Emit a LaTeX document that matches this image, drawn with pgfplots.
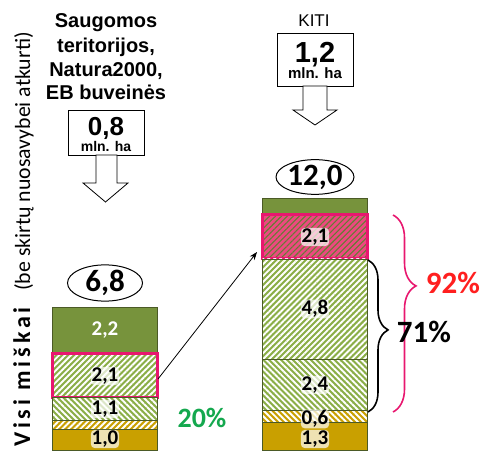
\documentclass[border=0pt]{standalone}
\usepackage{pgfplots}
\pgfplotsset{compat=1.18}
\usepackage{fontspec}
\setmainfont{Carlito}
\newfontfamily\arial{Liberation Sans}
\usetikzlibrary{patterns.meta,shapes.geometric,decorations.pathreplacing,arrows.meta}

\definecolor{olivec}{HTML}{77933C}
\definecolor{hgreen}{HTML}{8BAE47}
\definecolor{goldc}{HTML}{C9A000}
\definecolor{pinkb}{HTML}{E8176F}
\definecolor{pinkf}{HTML}{EC4A80}
\definecolor{edgec}{HTML}{4B5A26}
\definecolor{redp}{HTML}{FF1F1F}
\definecolor{greenp}{HTML}{14A84E}

\tikzset{
  hatchNE/.style={postaction={pattern={Lines[angle=45,distance=4.2pt,line width=1.9pt]},pattern color=white}},
  hatchNW/.style={postaction={pattern={Lines[angle=-45,distance=4.2pt,line width=1.9pt]},pattern color=white}},
  hatchPK/.style={postaction={pattern={Lines[angle=45,distance=4.2pt,line width=1.1pt]},pattern color=olivec!85!black}},
  lab/.style={font=\bfseries\fontsize{21}{21}\selectfont, fill=white, fill opacity=0.7, text opacity=1, inner sep=0.8pt, rounded corners=4pt},
}

\pgfplotsset{
  base/.style={width=486pt, height=450pt, scale only axis, at={(0pt,0pt)}, anchor=south west,
    xmin=0, xmax=486, ymin=0, ymax=21.428571, hide axis, clip=false,
    ybar stacked, bar width=105},
}

\begin{document}
\begin{tikzpicture}
% left bar
\begin{axis}[base]
\addplot[fill=goldc, draw=edgec, line width=0.6pt] coordinates {(105,1.0)};
\addplot[fill=goldc, draw=edgec, line width=0.6pt, hatchNE] coordinates {(105,0.4)};
\addplot[fill=hgreen, draw=edgec, line width=0.6pt, hatchNW] coordinates {(105,1.1)};
\addplot[fill=hgreen, draw=pinkb, line width=3pt, hatchNE] coordinates {(105,2.1)};
\addplot[fill=olivec, draw=edgec, line width=0.6pt] coordinates {(105,2.2)};
\end{axis}
% right bar
\begin{axis}[base, name=ax]
\addplot[fill=goldc, draw=edgec, line width=0.6pt] coordinates {(315,1.3)};
\addplot[fill=goldc, draw=edgec, line width=0.6pt, hatchNW] coordinates {(315,0.6)};
\addplot[fill=hgreen, draw=edgec, line width=0.6pt, hatchNW] coordinates {(315,2.4)};
\addplot[fill=hgreen, draw=edgec, line width=0.6pt, hatchNE] coordinates {(315,4.8)};
\addplot[fill=pinkf, draw=pinkb, line width=3pt, hatchPK] coordinates {(315,2.1)};
\addplot[fill=olivec, draw=edgec, line width=0.6pt] coordinates {(315,0.8)};
\end{axis}

\begin{scope}[shift={(ax.north west)}, x=1pt, y=-1pt]
  % bar value labels
  \node[lab] at (105,439) {1,0};
  \node[lab] at (105,409) {1,1};
  \node[lab] at (105,376) {2,1};
  \node[font=\bfseries\fontsize{21}{21}\selectfont, text=white] at (105,330) {2,2};
  \node[lab] at (315,439) {1,3};
  \node[lab] at (315,419) {0,6};
  \node[lab] at (315,385) {2,4};
  \node[lab] at (315,309) {4,8};
  \node[lab] at (315,237) {2,1};
  % header left
  \begin{scope}[every node/.style={anchor=base, font=\arial\bfseries\fontsize{20}{24}\selectfont}]
    \node at (106,28) {Saugomos};
    \node at (106,53) {teritorijos,};
    \node at (106,77) {Natura2000,};
    \node at (106,100) {EB buveinės};
  \end{scope}
  \node[anchor=base, font=\arial\fontsize{17}{17}\selectfont] at (314,27) {KITI};
  % boxes
  \draw[fill=white, line width=0.8pt] (68,110) rectangle (144,155);
  \node[anchor=base, font=\arial\bfseries\fontsize{26}{26}\selectfont, inner sep=0pt] at (106,136) {0,8};
  \node[anchor=base, font=\arial\bfseries\fontsize{14}{14}\selectfont, inner sep=0pt] at (106,152) {mln. ha};
  \draw[fill=white, line width=0.8pt] (277,33) rectangle (353,86);
  \node[anchor=base, font=\arial\bfseries\fontsize{29}{29}\selectfont, inner sep=0pt] at (315,63) {1,2};
  \node[anchor=base, font=\arial\bfseries\fontsize{15}{15}\selectfont, inner sep=0pt] at (315,79) {mln. ha};
  % hollow arrows
  \draw[fill=white, line width=0.8pt] (96,155) -- (117,155) -- (117,183) -- (128,183) -- (105.5,202) -- (83,183) -- (96,183) -- cycle;
  \draw[fill=white, line width=0.8pt] (303,86) -- (327,86) -- (327,110) -- (337,110) -- (315,125) -- (293,110) -- (303,110) -- cycle;
  % ellipses
  \node[draw, ellipse, line width=1pt, fill=white, minimum width=75pt, minimum height=28pt, inner sep=0pt, font=\bfseries\fontsize{31}{31}\selectfont] at (105,283) {6,8};
  \node[draw, ellipse, line width=1pt, fill=white, minimum width=76pt, minimum height=31pt, inner sep=0pt, font=\bfseries\fontsize{31}{31}\selectfont] at (315,177) {12,0};
  % y label
  \node[rotate=90, anchor=base west, inner sep=0pt, font=\bfseries\fontsize{24}{24}\selectfont] at (30,447) {\addfontfeatures{LetterSpace=16}Visi miškai};
  \node[rotate=90, anchor=base east, inner sep=0pt, font=\fontsize{21.8}{21.8}\selectfont] at (30,32) {(be skirtų nuosavybei atkurti)};
  % connecting arrow
  \draw[-{Stealth[length=8pt,width=6pt]}, line width=0.8pt] (158,379) -- (257,252);
  % braces
  \draw[decorate, decoration={brace, amplitude=20pt, aspect=0.46}, line width=1.6pt] (368,260) -- (368,412);
  \draw[decorate, decoration={brace, amplitude=23pt, aspect=0.36}, line width=1.6pt, pinkb] (393,215) -- (393,412);
  % percentages
  \node[anchor=base, font=\bfseries\fontsize{28}{28}\selectfont, text=greenp] at (202,427) {20\%};
  \node[anchor=base, font=\bfseries\fontsize{31}{31}\selectfont, text=redp] at (453,293) {92\%};
  \node[anchor=base, font=\bfseries\fontsize{31}{31}\selectfont] at (424,342) {71\%};
\end{scope}
\pgfresetboundingbox
\path (ax.south west) rectangle (ax.north east);
\end{tikzpicture}
\end{document}
